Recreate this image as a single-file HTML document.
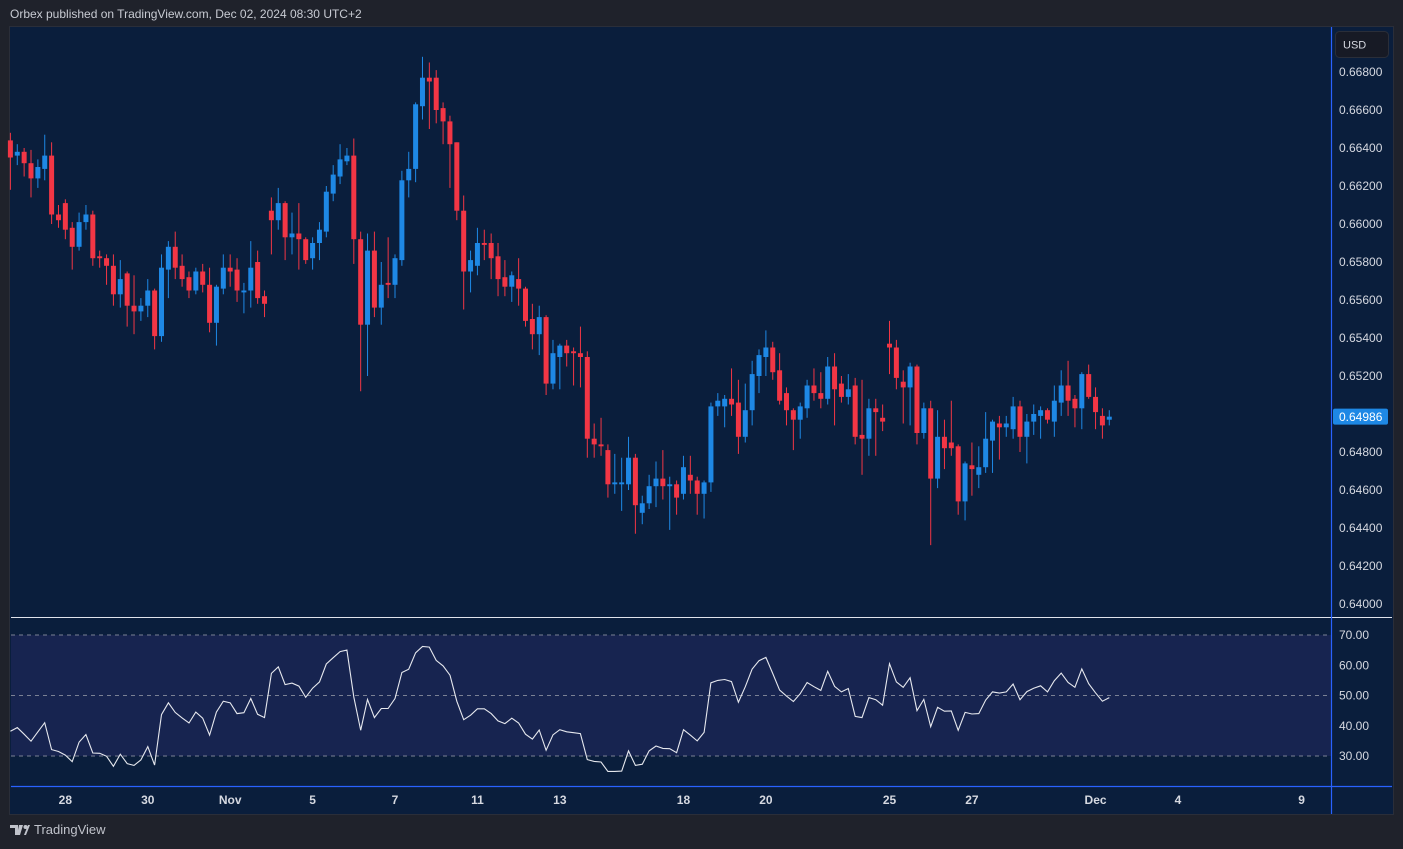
<!DOCTYPE html>
<html><head><meta charset="utf-8">
<style>
html,body{margin:0;padding:0;background:#1f222b;width:1403px;height:849px;overflow:hidden;font-family:"Liberation Sans",sans-serif}
#hdr{position:absolute;left:10px;top:7px;font-size:12px;color:#c8cbd3}
#foot{position:absolute;left:10px;top:822px;font-size:13px;color:#c0c3cb;display:flex;align-items:center;gap:4px}
svg{position:absolute;left:0;top:0}
</style></head><body>
<div id="hdr">Orbex published on TradingView.com, Dec 02, 2024 08:30 UTC+2</div>
<div id="foot"><svg width="20" height="12" style="position:static"><path d="M0 1h8v10H5V4H0z M9 1h4l-3 10H7z" fill="#c0c3cb"/><circle cx="15.5" cy="3" r="2" fill="#c0c3cb"/><path d="M14 11l4-10h2l-4 10z" fill="#c0c3cb"/></svg><span>TradingView</span></div>
<svg id="chart" width="1403" height="849"></svg>
<script>
const opens=[0.6644,0.6636,0.6638,0.6632,0.6624,0.6629,0.6636,0.6605,0.6611,0.6598,0.6588,0.6601,0.6605,0.6583,0.6582,0.6578,0.6563,0.6574,0.6557,0.6554,0.6557,0.6565,0.6541,0.6576,0.6588,0.6578,0.6572,0.6565,0.6575,0.6568,0.6548,0.6566,0.6577,0.6576,0.6564,0.6565,0.6580,0.6562,0.6607,0.6602,0.6611,0.6593,0.6595,0.6592,0.6582,0.6590,0.6596,0.6616,0.6625,0.6633,0.6636,0.6592,0.6547,0.6586,0.6556,0.6569,0.6568,0.6581,0.6623,0.6629,0.6662,0.6677,0.6677,0.6661,0.6654,0.6643,0.6607,0.6575,0.6578,0.6590,0.6590,0.6583,0.6572,0.6567,0.6571,0.6566,0.6550,0.6542,0.6551,0.6516,0.6530,0.6536,0.6533,0.6532,0.6530,0.6487,0.6484,0.6481,0.6463,0.6463,0.6463,0.6477,0.6448,0.6453,0.6462,0.6466,0.6462,0.6463,0.6458,0.6468,0.6465,0.6458,0.6464,0.6504,0.6504,0.6508,0.6506,0.6488,0.6502,0.6520,0.6530,0.6535,0.6523,0.6511,0.6502,0.6497,0.6503,0.6515,0.6511,0.6508,0.6525,0.6516,0.6509,0.6515,0.6489,0.6487,0.6503,0.6498,0.6537,0.6535,0.6517,0.6514,0.6525,0.6490,0.6503,0.6466,0.6488,0.6485,0.6483,0.6454,0.6473,0.6468,0.6472,0.6486,0.6495,0.6493,0.6492,0.6504,0.6488,0.6496,0.6499,0.6502,0.6496,0.6506,0.6515,0.6508,0.6503,0.6521,0.6509,0.6499,0.6497];
const highs=[0.6648,0.6642,0.6640,0.6639,0.6634,0.6647,0.6643,0.6610,0.6613,0.6601,0.6606,0.6610,0.6607,0.6586,0.6584,0.6584,0.6581,0.6575,0.6573,0.6561,0.6571,0.6566,0.6584,0.6591,0.6596,0.6584,0.6575,0.6577,0.6579,0.6577,0.6568,0.6584,0.6584,0.6582,0.6569,0.6591,0.6586,0.6565,0.6614,0.6619,0.6612,0.6606,0.6611,0.6593,0.6593,0.6601,0.6620,0.6631,0.6642,0.6640,0.6645,0.6596,0.6595,0.6596,0.6580,0.6593,0.6584,0.6628,0.6638,0.6664,0.6688,0.6685,0.6681,0.6664,0.6657,0.6643,0.6615,0.6586,0.6598,0.6597,0.6595,0.6590,0.6581,0.6575,0.6582,0.6567,0.6558,0.6557,0.6552,0.6539,0.6537,0.6539,0.6535,0.6546,0.6533,0.6495,0.6498,0.6484,0.6479,0.6477,0.6488,0.6479,0.6457,0.6468,0.6475,0.6481,0.6467,0.6465,0.6478,0.6478,0.6467,0.6465,0.6506,0.6511,0.6510,0.6524,0.6518,0.6516,0.6528,0.6534,0.6544,0.6538,0.6532,0.6514,0.6503,0.6506,0.6518,0.6524,0.6522,0.6530,0.6532,0.6520,0.6521,0.6519,0.6518,0.6508,0.6508,0.6505,0.6549,0.6539,0.6523,0.6527,0.6526,0.6506,0.6507,0.6502,0.6497,0.6507,0.6484,0.6475,0.6485,0.6483,0.6501,0.6497,0.6499,0.6499,0.6509,0.6507,0.6500,0.6505,0.6504,0.6503,0.6515,0.6523,0.6528,0.6510,0.6522,0.6526,0.6514,0.6503,0.6502];
const lows=[0.6618,0.6631,0.6625,0.6614,0.6619,0.6623,0.6600,0.6598,0.6592,0.6576,0.6586,0.6597,0.6578,0.6577,0.6568,0.6557,0.6556,0.6546,0.6542,0.6549,0.6551,0.6534,0.6538,0.6561,0.6571,0.6567,0.6561,0.6563,0.6564,0.6543,0.6536,0.6563,0.6567,0.6559,0.6553,0.6556,0.6558,0.6551,0.6584,0.6597,0.6581,0.6584,0.6576,0.6579,0.6576,0.6581,0.6593,0.6612,0.6621,0.6631,0.6579,0.6512,0.6520,0.6551,0.6547,0.6561,0.6561,0.6578,0.6614,0.6622,0.6655,0.6650,0.6653,0.6642,0.6619,0.6602,0.6555,0.6564,0.6573,0.6581,0.6571,0.6562,0.6562,0.6559,0.6557,0.6546,0.6534,0.6531,0.6510,0.6513,0.6513,0.6525,0.6515,0.6514,0.6477,0.6477,0.6478,0.6456,0.6458,0.6449,0.6460,0.6437,0.6442,0.6450,0.6451,0.6455,0.6439,0.6447,0.6455,0.6458,0.6447,0.6445,0.6459,0.6499,0.6493,0.6499,0.6479,0.6485,0.6494,0.6511,0.6520,0.6518,0.6505,0.6494,0.6481,0.6487,0.6498,0.6507,0.6503,0.6505,0.6494,0.6506,0.6505,0.6484,0.6468,0.6478,0.6478,0.6491,0.6521,0.6513,0.6495,0.6494,0.6484,0.6487,0.6431,0.6461,0.6471,0.6478,0.6447,0.6444,0.6457,0.6461,0.6469,0.6469,0.6476,0.6488,0.6487,0.6480,0.6474,0.6489,0.6487,0.6495,0.6488,0.6499,0.6499,0.6493,0.6492,0.6508,0.6492,0.6487,0.6494];
const closes=[0.6635,0.6638,0.6632,0.6624,0.6630,0.6636,0.6605,0.6602,0.6597,0.6588,0.6601,0.6605,0.6582,0.6582,0.6578,0.6563,0.6571,0.6557,0.6554,0.6557,0.6565,0.6541,0.6577,0.6588,0.6577,0.6571,0.6565,0.6575,0.6568,0.6548,0.6567,0.6577,0.6575,0.6565,0.6565,0.6577,0.6561,0.6558,0.6602,0.6611,0.6593,0.6595,0.6592,0.6581,0.6590,0.6597,0.6617,0.6626,0.6634,0.6636,0.6592,0.6547,0.6586,0.6556,0.6568,0.6568,0.6582,0.6623,0.6629,0.6663,0.6677,0.6675,0.6660,0.6654,0.6642,0.6607,0.6575,0.6581,0.6590,0.6589,0.6582,0.6571,0.6567,0.6573,0.6566,0.6549,0.6542,0.6551,0.6516,0.6532,0.6536,0.6532,0.6532,0.6530,0.6487,0.6484,0.6483,0.6463,0.6464,0.6464,0.6477,0.6452,0.6453,0.6462,0.6466,0.6462,0.6463,0.6456,0.6472,0.6465,0.6458,0.6464,0.6504,0.6507,0.6508,0.6505,0.6488,0.6502,0.6521,0.6531,0.6535,0.6522,0.6507,0.6502,0.6497,0.6504,0.6515,0.6511,0.6508,0.6525,0.6513,0.6509,0.6513,0.6488,0.6487,0.6503,0.6501,0.6496,0.6535,0.6519,0.6514,0.6525,0.6490,0.6503,0.6466,0.6488,0.6482,0.6482,0.6454,0.6474,0.6471,0.6472,0.6487,0.6496,0.6493,0.6495,0.6504,0.6488,0.6496,0.6500,0.6502,0.6497,0.6507,0.6515,0.6507,0.6503,0.6521,0.6509,0.6501,0.6494,0.64986];
const rsi=[38.2,39.4,37.2,34.9,38.0,41.0,32.1,31.5,30.3,28.1,34.6,37.1,31.0,30.9,29.9,26.6,30.6,27.5,26.9,28.7,33.1,27.0,43.7,47.6,44.4,42.6,40.9,44.5,42.5,36.9,44.5,48.1,47.6,44.0,44.3,49.0,43.8,42.7,57.3,59.5,53.6,54.1,53.1,49.4,52.4,54.5,60.4,62.5,64.5,65.0,49.5,38.5,48.7,42.7,45.7,45.7,49.0,57.6,58.7,64.1,66.2,66.0,61.6,59.8,56.7,48.1,42.0,43.5,45.6,45.6,44.0,41.6,40.7,42.5,40.9,37.2,35.6,38.6,31.9,37.0,38.7,38.0,37.7,37.4,28.8,28.2,28.0,24.9,24.9,25.0,31.7,26.9,27.3,31.7,33.3,32.5,32.4,31.1,38.7,36.9,35.0,37.8,54.2,55.0,55.3,54.6,47.8,52.9,58.7,61.5,62.6,57.3,51.8,49.8,48.0,50.6,54.3,52.9,51.7,58.0,53.0,51.2,52.3,43.1,42.7,49.3,48.6,46.8,60.5,54.5,52.7,55.9,45.0,48.7,39.7,46.1,44.8,44.9,38.5,44.4,43.9,44.0,48.5,51.2,50.8,51.2,53.8,48.6,51.3,52.4,53.2,51.2,54.9,57.4,54.3,52.7,58.8,53.9,50.9,48.1,49.3];
const priceTicks=[0.668,0.666,0.664,0.662,0.660,0.658,0.656,0.654,0.652,0.650,0.648,0.646,0.644,0.642,0.640];
const rsiTicks=[70,60,50,40,30];
const dateLabels=["28","30","Nov","5","7","11","13","18","20","25","27","Dec","4","9"];
const dateIdx=[8,20,32,44,56,68,80,98,110,128,140,158,170,188];
</script>
<script>
const svg=document.getElementById('chart');
const NS='http://www.w3.org/2000/svg';
const X0=10.4, DX=6.868;
const xOf=i=>X0+DX*i;
const yP=p=>604-(p-0.64)*19000;
const yR=v=>695.5-(v-50)*3.025;
function mk(tag,attrs,parent){const e=document.createElementNS(NS,tag);for(const k in attrs)e.setAttribute(k,attrs[k]);(parent||svg).appendChild(e);return e;}
// panel
let r=mk('rect',{x:9.5,y:26.5,width:1384,height:788,fill:'#0a1e3c',stroke:'#2a2e39'});


// rsi band
r=mk('rect',{x:11,y:yR(70),width:1320,height:yR(30)-yR(70),fill:'#172450'});


[70,50,30].forEach(v=>{const l=mk('line',{x1:11,x2:1331,y1:yR(v),y2:yR(v),stroke:'#7b8194','stroke-dasharray':'4 4','stroke-width':1});

});
// separators
let l=mk('line',{x1:11,x2:1392,y1:617.5,y2:617.5,stroke:'#e0e3eb','stroke-width':1});


l=mk('line',{x1:11,x2:1392,y1:786.5,y2:786.5,stroke:'#2962ff','stroke-width':1.2});


l=mk('line',{x1:1331.5,x2:1331.5,y1:27,y2:814,stroke:'#2962ff','stroke-width':1.2});


// candles
const cg=mk('g',{});


for(let i=0;i<closes.length;i++){
 const up=closes[i]>=opens[i];const col=up?'#1e88e5':'#f23645';const x=xOf(i);
 const w=mk('line',{x1:x,x2:x,y1:yP(highs[i]),y2:yP(lows[i]),stroke:col,'stroke-width':1},cg);
 
 
 const t=Math.min(yP(opens[i]),yP(closes[i]));const h=Math.max(1,Math.abs(yP(opens[i])-yP(closes[i])));
 const b=mk('rect',{x:x-2.5,y:t,width:5,height:h,fill:col},cg);
 
 
}
// rsi line
const pts=rsi.map((v,i)=>xOf(i).toFixed(1)+','+yR(v).toFixed(1)).join(' ');
const pl=mk('polyline',{points:pts,fill:'none',stroke:'#e6e8ee','stroke-width':1.1});


// axis labels
priceTicks.forEach(p=>{const t=mk('text',{x:1339,y:yP(p)+4,fill:'#d6d9e1','font-size':12,'font-family':'Liberation Sans, sans-serif'});t.textContent=p.toFixed(5);

});
rsiTicks.forEach(v=>{const t=mk('text',{x:1339,y:yR(v)+4,fill:'#d6d9e1','font-size':12,'font-family':'Liberation Sans, sans-serif'});t.textContent=v.toFixed(2);

});
dateLabels.forEach((s,k)=>{const t=mk('text',{x:xOf(dateIdx[k]),y:804,fill:'#d6d9e1','font-size':12,'font-weight':'bold','text-anchor':'middle','font-family':'Liberation Sans, sans-serif'});t.textContent=s;

});
// USD button
const ug=mk('g',{});


mk('rect',{x:1335.5,y:31.5,width:53,height:26,rx:4,fill:'#171a25',stroke:'#2a2e39'},ug);
let ut=mk('text',{x:1343,y:48.5,fill:'#d6d9e1','font-size':11,'font-family':'Liberation Sans, sans-serif'},ug);ut.textContent='USD';
// last price label
const last=closes[closes.length-1];
const lg=mk('g',{});


mk('rect',{x:1333,y:yP(last)-8,width:55,height:16,rx:2,fill:'#1e88e5'},lg);
let lt=mk('text',{x:1339,y:yP(last)+4.5,fill:'#ffffff','font-size':12,'font-family':'Liberation Sans, sans-serif'},lg);lt.textContent=last.toFixed(5);
</script>
</body></html>
